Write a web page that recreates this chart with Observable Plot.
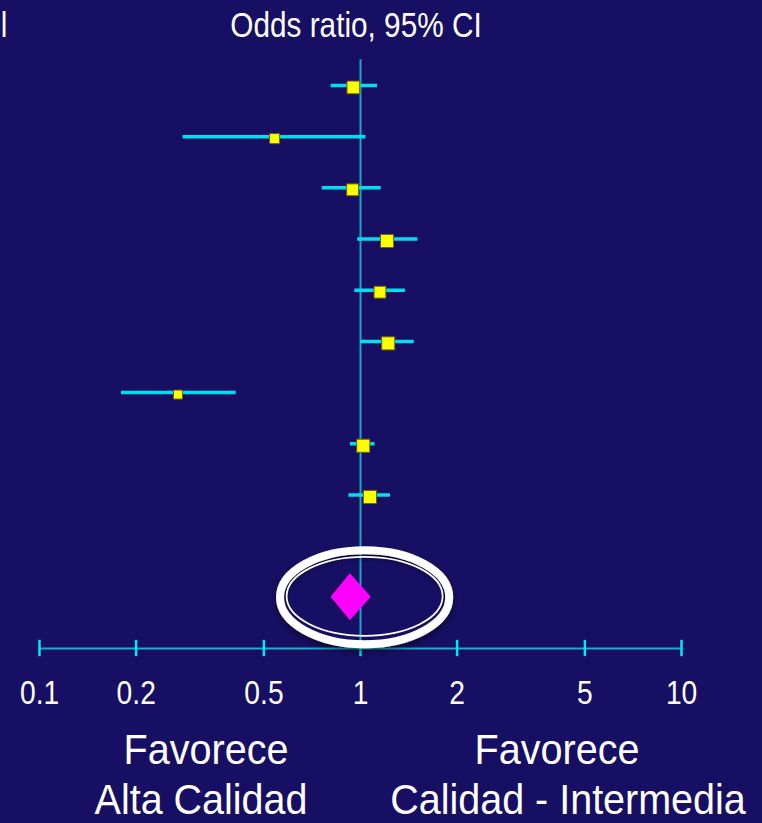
<!DOCTYPE html>
<html><head><meta charset="utf-8">
<script src="https://cdn.jsdelivr.net/npm/d3@7"></script>
<script src="https://cdn.jsdelivr.net/npm/@observablehq/plot@0.6"></script>
<style>
html,body{margin:0;padding:0;background:#170f63;}
#wrap{position:relative;width:762px;height:823px;overflow:hidden;background:#170f63;}
.t{position:absolute;color:#fff;font-family:"Liberation Sans",Arial,sans-serif;white-space:nowrap;line-height:0.86;}
</style></head><body><div id="wrap"></div>
<script>
// ---- data ----
const studyRow   = [1, 2, 3, 4, 5, 6, 7, 8, 9];
const oddsRatio  = [0.95, 0.54, 0.945, 1.21, 1.15, 1.22, 0.27, 1.02, 1.07];
const ciLower    = [0.81, 0.28, 0.76, 0.98, 0.96, 1.00, 0.18, 0.93, 0.92];
const ciUpper    = [1.13, 1.04, 1.16, 1.51, 1.38, 1.47, 0.41, 1.11, 1.24];
const weight     = [16, 10, 14, 17, 14, 17, 8, 17, 17];
const totalRow   = 11;
const totalOR    = 0.93;
const totalLower = 0.81;
const totalUpper = 1.08;
const tickValues = [0.1, 0.2, 0.5, 1, 2, 5, 10];
const tickLabels = ["0.1", "0.2", "0.5", "1", "2", "5", "10"];
const titleText  = "Odds ratio, 95% CI";
const leftLabel  = ["Favorece", "Alta Calidad"];
const rightLabel = ["Favorece", "Calidad - Intermedia"];

const studies = studyRow.map((r, i) => ({row: r, or: oddsRatio[i], lo: ciLower[i], hi: ciUpper[i], w: weight[i]}));
const hDiamond = 0.46;
const diamond = [
  {y: totalRow - hDiamond, x1: totalOR, x2: totalOR},
  {y: totalRow, x1: totalLower, x2: totalUpper},
  {y: totalRow + hDiamond, x1: totalOR, x2: totalOR}
];
const ticks = tickValues.map((v, i) => ({v, label: tickLabels[i]}));
const axisRow = 12;

function ellipseSymbol(rx, ry) {
  return {draw(ctx) {
    const k = 0.5522848;
    ctx.moveTo(rx, 0);
    ctx.bezierCurveTo(rx, k * ry, k * rx, ry, 0, ry);
    ctx.bezierCurveTo(-k * rx, ry, -rx, k * ry, -rx, 0);
    ctx.bezierCurveTo(-rx, -k * ry, -k * rx, -ry, 0, -ry);
    ctx.bezierCurveTo(k * rx, -ry, rx, -k * ry, rx, 0);
    ctx.closePath();
  }};
}
const highlight = [{x: 1.03, y: totalRow}];
const FONT = '"Liberation Sans",Arial,sans-serif';

const plot = Plot.plot({
  width: 762,
  height: 823,
  marginLeft: 39,
  marginRight: 81,
  marginTop: 33.75,
  marginBottom: 175,
  style: {background: "#170f63", overflow: "visible"},
  x: {type: "log", domain: [0.1, 10], axis: null},
  y: {domain: [0, 12], reverse: true, axis: null},
  r: {type: "sqrt", domain: [0, 17], range: [0, 7.4]},
  marks: [
    Plot.ruleX([1], {y1: 0.5, y2: axisRow, stroke: "#17a8c6", strokeWidth: 2}),
    Plot.ruleY([axisRow], {stroke: "#1aaecb", strokeWidth: 2}),
    Plot.ruleX(ticks, {x: "v", y1: axisRow - 0.16, y2: axisRow + 0.16, stroke: "#00e8f2", strokeWidth: 2.5}),
    Plot.text(ticks, {x: "v", y: axisRow, dy: 44.5, text: "label", fill: "#ffffff", fontSize: 34, fontFamily: FONT}),
    Plot.ruleY(studies, {y: "row", x1: "lo", x2: "hi", stroke: "#00dff0", strokeWidth: 3.5}),
    Plot.dot(studies, {x: "or", y: "row", r: "w", symbol: "square", fill: "#ffff00", stroke: "#6a5f1c", strokeWidth: 1, dy: 2}),
    Plot.areaX(diamond, {y: "y", x1: "x1", x2: "x2", fill: "#ff00ff", curve: "linear"}),
    Plot.dot(highlight, {x: "x", y: "y", r: 1, symbol: ellipseSymbol(84.6, 47), fill: "none", stroke: "#ffffff", strokeWidth: 8}),
    Plot.dot(highlight, {x: "x", y: "y", r: 1, symbol: ellipseSymbol(78, 39.5), fill: "none", stroke: "#ffffff", strokeWidth: 1.8, dy: -1})
  ]
});

const wrap = document.getElementById("wrap");
wrap.appendChild(plot);

// soft shadow under the ring
const svg = d3.select(plot);
const defs = svg.insert("defs", ":first-child");
const f = defs.append("filter").attr("id", "sh").attr("x", "-20%").attr("y", "-20%").attr("width", "140%").attr("height", "150%");
f.append("feDropShadow").attr("dx", 0).attr("dy", 3).attr("stdDeviation", 3).attr("flood-color", "#000").attr("flood-opacity", 0.55);
const dotGroups = plot.querySelectorAll('g[aria-label="dot"]');
if (dotGroups.length > 1) dotGroups[1].setAttribute("filter", "url(#sh)");

// condense the tick labels horizontally (narrow typeface look)
const svgRect = plot.getBoundingClientRect();
plot.querySelectorAll('g[aria-label="text"] text').forEach(function (el) {
  const b = el.getBoundingClientRect();
  const cx = b.left + b.width / 2 - svgRect.left;
  const t = el.getAttribute("transform") || "";
  el.setAttribute("transform", `translate(${cx},0) scale(0.83,1) translate(${-cx},0) ${t}`);
});

function addText(txt, cx, top, size, sx) {
  const d = document.createElement("div");
  d.className = "t";
  d.textContent = txt;
  d.style.left = cx + "px";
  d.style.top = top + "px";
  d.style.fontSize = size + "px";
  d.style.transform = `translateX(-50%) scaleX(${sx})`;
  wrap.appendChild(d);
}
addText(titleText, 356, 10, 35, 0.85);
addText("l", 4, 10, 35, 0.85);
addText(leftLabel[0], 206, 731, 43, 0.92);
addText(leftLabel[1], 201, 781.5, 42, 0.94);
addText(rightLabel[0], 557, 731, 43, 0.92);
addText(rightLabel[1], 568, 781.5, 42, 0.94);
</script>
</body></html>
